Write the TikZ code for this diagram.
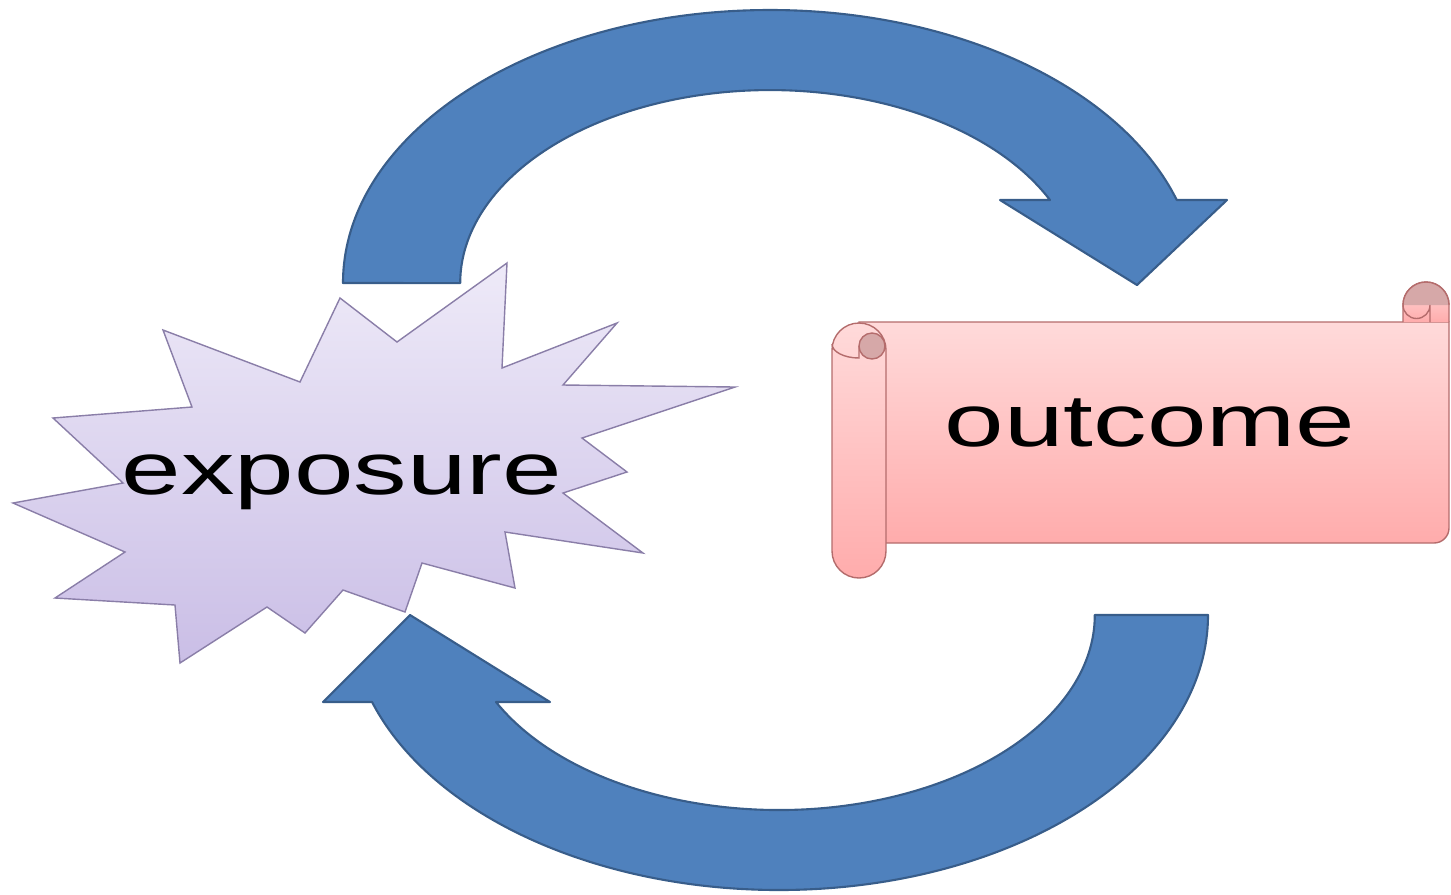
\documentclass[tikz,border=0pt]{standalone}
\usepackage{fontspec}
\setmainfont{Liberation Sans}
\definecolor{arrowblue}{RGB}{79,129,189}
\definecolor{arrowedge}{RGB}{56,93,138}
\definecolor{bursttop}{RGB}{238,234,248}
\definecolor{burstbot}{RGB}{202,190,230}
\definecolor{burstedge}{RGB}{138,126,168}
\definecolor{scrolltop}{RGB}{255,218,218}
\definecolor{scrollbot}{RGB}{255,172,172}
\definecolor{scrolledge}{RGB}{180,108,108}
\definecolor{curldark}{RGB}{214,168,168}

\begin{document}
\begin{tikzpicture}[x=0.02cm,y=-0.02cm,
    bigarrow/.style={fill=arrowblue,draw=arrowedge,line width=1.2pt,line join=round},
    burst/.style={top color=bursttop,bottom color=burstbot,draw=burstedge,line width=0.8pt},
    scroll/.style={top color=scrolltop,bottom color=scrollbot,draw=scrolledge,line width=0.8pt},
    word/.style={font=\fontsize{42}{50}\selectfont,xscale=1.45,inner sep=0pt,anchor=base}]
    \useasboundingbox (0,0) rectangle (1451,894);

    % starburst
    \draw[burst] plot coordinates {(507,263) (502,368) (617,323) (563,385) (735,387)
        (582,438) (627,472) (563,493) (643,553) (505,532) (515,588) (422,563)
        (405,612) (343,590) (305,633) (267,607) (180,663) (175,605) (55,598)
        (125,552) (13,503) (123,483) (53,418) (192,407) (163,330) (300,382)
        (340,298) (397,342)} -- cycle;
    \node[word] (exposure) at (342,494) {exposure};

    % scroll
    \draw[scroll] (859,322) -- (1449,322) -- (1449,528)
        arc[start angle=0,end angle=90,radius=15] -- (859,543) -- cycle;
    \draw[scroll] (1403,322) -- (1403,305) arc[start angle=180,end angle=360,radius=23] -- (1449,322);
    \fill[curldark] (1403,305) arc[start angle=180,end angle=360,radius=23] -- cycle;
    \draw[scrolledge,line width=0.8pt] (1403,305) arc[start angle=180,end angle=360,radius=23];
    \draw[scrolledge,line width=0.8pt] (1403,305) arc[start angle=180,end angle=0,radius=13.5] -- (1430,322);
    \draw[scroll] (832,350) arc[start angle=180,end angle=360,radius=27] -- (886,551)
        arc[start angle=0,end angle=180,radius=27] -- cycle;
    \draw[scrolledge,line width=0.8pt,fill=curldark] (872,346) circle[radius=13];
    \draw[scrolledge,line width=0.8pt] (859,346) -- (859,358)
        arc[start angle=90,end angle=180,x radius=27,y radius=14];
    \node[word] (outcome) at (1150,446) {outcome};

    % curved arrows
    \draw[bigarrow] (343,283) arc[start angle=180,end angle=342.3,x radius=427,y radius=273]
        -- (1227,200) -- (1137,285) -- (1000,200) -- (1050,200)
        arc[start angle=334.5,end angle=180,x radius=310,y radius=193] -- cycle;
    \draw[bigarrow] (1208,615) arc[start angle=0,end angle=161.56,x radius=429,y radius=275]
        -- (323,702) -- (410,615) -- (550,702) -- (496,702)
        arc[start angle=153.5,end angle=0,x radius=316,y radius=195] -- cycle;
\end{tikzpicture}
\end{document}
